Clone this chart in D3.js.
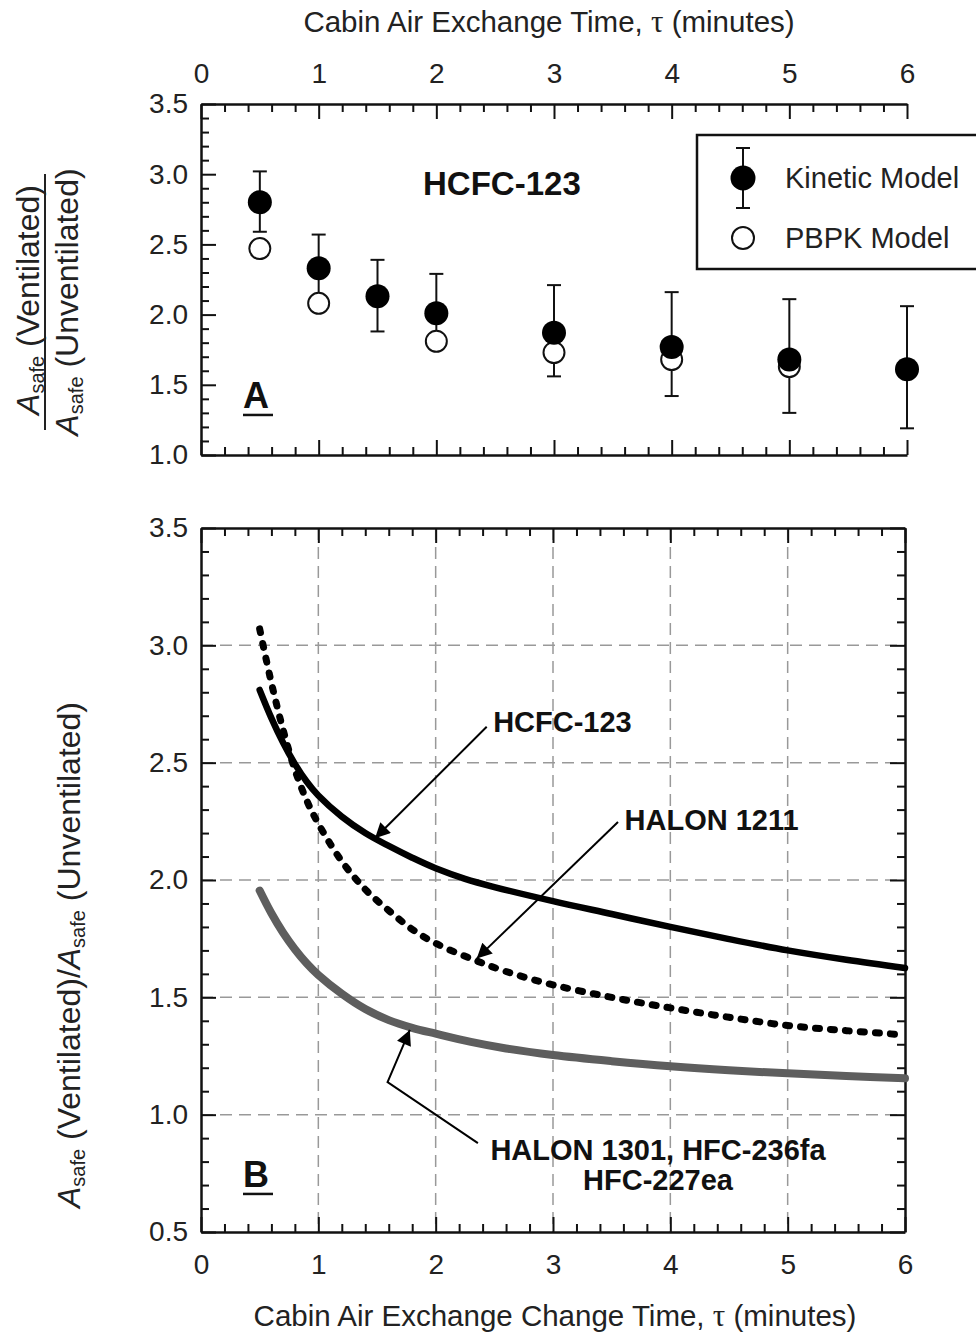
<!DOCTYPE html>
<html>
<head>
<meta charset="utf-8">
<script src="https://cdn.jsdelivr.net/npm/d3@7"></script>
<style>
  html, body { margin: 0; padding: 0; background: #fff; }
  svg { display: block; font-family: "Liberation Sans", Arial, Helvetica, sans-serif; }
</style>
</head>
<body>
<script>
// ---------- DATA ----------
// Panel A: HCFC-123, ratio vs cabin air exchange time
const tauA = [0.5, 1, 1.5, 2, 3, 4, 5, 6];
const kinetic = [2.80, 2.33, 2.13, 2.01, 1.87, 1.77, 1.68, 1.61];
const kineticLow = [2.59, 2.10, 1.88, 1.76, 1.56, 1.42, 1.30, 1.19];
const kineticHigh = [3.02, 2.57, 2.39, 2.29, 2.21, 2.16, 2.11, 2.06];
const tauPBPK = [0.5, 1, 2, 3, 4, 5];
const pbpk = [2.47, 2.08, 1.81, 1.73, 1.68, 1.63];

// Panel B: curves
const tauHCFC = [0.5, 0.6, 0.7, 0.8, 0.9, 1.0, 1.2, 1.4, 1.6, 1.8, 2.0, 2.25, 2.5, 3.0, 3.5, 4.0, 4.5, 5.0, 5.5, 6.0];
const hcfc123 = [2.81, 2.69, 2.585, 2.495, 2.42, 2.36, 2.27, 2.20, 2.145, 2.095, 2.05, 2.005, 1.97, 1.91, 1.855, 1.80, 1.748, 1.70, 1.66, 1.625];
const tauH1211 = [0.5, 0.6, 0.7, 0.8, 0.9, 1.0, 1.2, 1.4, 1.6, 1.8, 2.0, 2.3, 2.6, 3.0, 3.5, 4.0, 4.5, 5.0, 5.5, 6.0];
const halon1211 = [3.07, 2.84, 2.64, 2.47, 2.34, 2.24, 2.08, 1.96, 1.87, 1.79, 1.73, 1.665, 1.61, 1.553, 1.50, 1.455, 1.415, 1.38, 1.358, 1.34];
const tauH1301 = [0.5, 0.6, 0.7, 0.8, 0.9, 1.0, 1.2, 1.4, 1.6, 1.8, 2.0, 2.3, 2.6, 3.0, 3.5, 4.0, 4.5, 5.0, 5.5, 6.0];
const halon1301 = [1.955, 1.858, 1.775, 1.705, 1.645, 1.595, 1.515, 1.45, 1.403, 1.37, 1.345, 1.31, 1.282, 1.254, 1.228, 1.206, 1.189, 1.176, 1.165, 1.155];

// Tick labels
const xTickValues = [0, 1, 2, 3, 4, 5, 6];
const yTickValuesA = [1.0, 1.5, 2.0, 2.5, 3.0, 3.5];
const yTickValuesB = [0.5, 1.0, 1.5, 2.0, 2.5, 3.0, 3.5];
const gridX = [1, 2, 3, 4, 5];
const gridY = [1.0, 1.5, 2.0, 2.5, 3.0];

// ---------- SETUP ----------
const W = 976, H = 1334;
const svg = d3.select("body").append("svg").attr("width", W).attr("height", H);

const xA = d3.scaleLinear().domain([0, 6]).range([201, 907]);
const yA = d3.scaleLinear().domain([1.0, 3.5]).range([455, 104]);
const xB = d3.scaleLinear().domain([0, 6]).range([201, 905]);
const yB = d3.scaleLinear().domain([0.5, 3.5]).range([1232, 528]);

const xMinors = d3.range(0, 31).filter(i => i % 5 !== 0).map(i => i / 5);
const yMinorsA = d3.range(10, 36).filter(i => i % 5 !== 0).map(i => i / 10);
const yMinorsB = d3.range(5, 36).filter(i => i % 5 !== 0).map(i => i / 10);
const fmt1 = d3.format(".1f");

function drawAxis(orient, scale, pos, majors, minors, labels, fmt, pad) {
  const mk = { top: d3.axisTop, bottom: d3.axisBottom, left: d3.axisLeft, right: d3.axisRight }[orient];
  const tr = (orient === "top" || orient === "bottom") ? `translate(0,${pos})` : `translate(${pos},0)`;
  const gMin = svg.append("g").attr("transform", tr)
    .call(mk(scale).tickValues(minors).tickSizeInner(-8).tickSizeOuter(0).tickFormat(""));
  gMin.select(".domain").remove();
  gMin.selectAll("line").attr("stroke", "#111").attr("stroke-width", 2);
  const gMaj = svg.append("g").attr("transform", tr)
    .call(mk(scale).tickValues(majors).tickSizeInner(-15).tickSizeOuter(0).tickPadding(pad)
      .tickFormat(labels ? fmt : ""));
  gMaj.attr("font-family", null).attr("font-size", null);
  gMaj.select(".domain").attr("stroke", "#111").attr("stroke-width", 2.5);
  gMaj.selectAll("line").attr("stroke", "#111").attr("stroke-width", 2);
  gMaj.selectAll("text").attr("font-size", 28).attr("fill", "#222")
    .attr("font-family", "'Liberation Sans', Arial, sans-serif");
  return gMaj;
}

// ---------- PANEL A ----------
drawAxis("top", xA, 104, xTickValues, xMinors, true, d3.format("d"), 21);
drawAxis("bottom", xA, 455, xTickValues, xMinors, false, null, 0);
drawAxis("left", yA, 201, yTickValuesA, yMinorsA, true, fmt1, 13);

// Error bars
const eb = svg.append("g").attr("stroke", "#111").attr("stroke-width", 2).attr("fill", "none");
tauA.forEach((t, i) => {
  const x = xA(t);
  eb.append("line").attr("x1", x).attr("x2", x).attr("y1", yA(kineticLow[i])).attr("y2", yA(kineticHigh[i]));
  eb.append("line").attr("x1", x - 7).attr("x2", x + 7).attr("y1", yA(kineticLow[i])).attr("y2", yA(kineticLow[i]));
  eb.append("line").attr("x1", x - 7).attr("x2", x + 7).attr("y1", yA(kineticHigh[i])).attr("y2", yA(kineticHigh[i]));
});
// PBPK open circles
svg.append("g").selectAll("circle").data(tauPBPK).join("circle")
  .attr("cx", d => xA(d)).attr("cy", (d, i) => yA(pbpk[i])).attr("r", 10.5)
  .attr("fill", "#fff").attr("stroke", "#111").attr("stroke-width", 2);
// Kinetic filled circles
svg.append("g").selectAll("circle").data(tauA).join("circle")
  .attr("cx", d => xA(d)).attr("cy", (d, i) => yA(kinetic[i])).attr("r", 12)
  .attr("fill", "#000");

// Panel A text
svg.append("text").attr("x", xA(1.887)).attr("y", yA(2.852))
  .attr("font-size", 33).attr("font-weight", "bold").attr("fill", "#111").text("HCFC-123");
svg.append("text").attr("x", xA(0.357)).attr("y", yA(1.335))
  .attr("font-size", 36).attr("font-weight", "bold").attr("fill", "#111").text("A");
svg.append("line").attr("x1", xA(0.357)).attr("x2", xA(0.357) + 30)
  .attr("y1", yA(1.335) + 7).attr("y2", yA(1.335) + 7).attr("stroke", "#111").attr("stroke-width", 2.5);

// Legend
const lg = svg.append("g");
lg.append("rect").attr("x", 697).attr("y", 135).attr("width", 300).attr("height", 134)
  .attr("fill", "#fff").attr("stroke", "#111").attr("stroke-width", 2.5);
lg.append("line").attr("x1", 743).attr("x2", 743).attr("y1", 148).attr("y2", 208).attr("stroke", "#111").attr("stroke-width", 2);
lg.append("line").attr("x1", 736).attr("x2", 750).attr("y1", 148).attr("y2", 148).attr("stroke", "#111").attr("stroke-width", 2);
lg.append("line").attr("x1", 736).attr("x2", 750).attr("y1", 208).attr("y2", 208).attr("stroke", "#111").attr("stroke-width", 2);
lg.append("circle").attr("cx", 743).attr("cy", 178).attr("r", 12.5).attr("fill", "#000");
lg.append("circle").attr("cx", 743).attr("cy", 238).attr("r", 11).attr("fill", "#fff").attr("stroke", "#111").attr("stroke-width", 2);
lg.append("text").attr("x", 785).attr("y", 188).attr("font-size", 29).attr("fill", "#222").text("Kinetic Model");
lg.append("text").attr("x", 785).attr("y", 248).attr("font-size", 29).attr("fill", "#222").text("PBPK Model");

// Top x title
const tTop = svg.append("text").attr("x", 549).attr("y", 32).attr("text-anchor", "middle")
  .attr("font-size", 29.5).attr("fill", "#222");
tTop.append("tspan").text("Cabin Air Exchange Time, ");
tTop.append("tspan").attr("font-family", "'Liberation Serif', 'DejaVu Serif', serif").attr("font-size", 31).text("τ");
tTop.append("tspan").text(" (minutes)");

// Panel A y title (fraction)
function ratioLabel(g, word) {
  g.append("tspan").attr("font-style", "italic").text("A");
  g.append("tspan").attr("font-size", 20).attr("dy", 5).text("safe");
  g.append("tspan").attr("dy", -5).text(" (" + word + ")");
}
const num = svg.append("text").attr("transform", "translate(39,300) rotate(-90)")
  .attr("text-anchor", "middle").attr("font-size", 32).attr("fill", "#222");
ratioLabel(num, "Ventilated");
const den = svg.append("text").attr("transform", "translate(78,302) rotate(-90)")
  .attr("text-anchor", "middle").attr("font-size", 32).attr("fill", "#222");
ratioLabel(den, "Unventilated");
svg.append("line").attr("x1", 45).attr("x2", 45).attr("y1", 174).attr("y2", 430)
  .attr("stroke", "#222").attr("stroke-width", 2);

// ---------- PANEL B ----------
// grid
const grid = svg.append("g").attr("stroke", "#999").attr("stroke-width", 1.5).attr("stroke-dasharray", "12,7");
gridX.forEach(v => grid.append("line").attr("x1", xB(v)).attr("x2", xB(v)).attr("y1", yB(3.5)).attr("y2", yB(0.5)));
gridY.forEach(v => grid.append("line").attr("x1", xB(0)).attr("x2", xB(6)).attr("y1", yB(v)).attr("y2", yB(v)));

drawAxis("top", xB, 528, xTickValues, xMinors, false, null, 0);
drawAxis("bottom", xB, 1232, xTickValues, xMinors, true, d3.format("d"), 22);
drawAxis("left", yB, 201, yTickValuesB, yMinorsB, true, fmt1, 13);
drawAxis("right", yB, 905, yTickValuesB, yMinorsB, false, null, 0);

const lineGen = d3.line().x(d => xB(d[0])).y(d => yB(d[1])).curve(d3.curveCatmullRom.alpha(0.5));
svg.append("path").attr("d", lineGen(d3.zip(tauH1301, halon1301)))
  .attr("fill", "none").attr("stroke", "#5e5e5e").attr("stroke-width", 8).attr("stroke-linecap", "round");
svg.append("path").attr("d", lineGen(d3.zip(tauH1211, halon1211)))
  .attr("fill", "none").attr("stroke", "#000").attr("stroke-width", 7)
  .attr("stroke-dasharray", "4,11").attr("stroke-linecap", "round");
svg.append("path").attr("d", lineGen(d3.zip(tauHCFC, hcfc123)))
  .attr("fill", "none").attr("stroke", "#000").attr("stroke-width", 6.5).attr("stroke-linecap", "round");

// Arrows
const defs = svg.append("defs");
defs.append("marker").attr("id", "ah").attr("viewBox", "0 0 10 10").attr("refX", 10).attr("refY", 5)
  .attr("markerUnits", "userSpaceOnUse").attr("markerWidth", 24).attr("markerHeight", 15)
  .attr("orient", "auto")
  .append("path").attr("d", "M0,0 L10,5 L0,10 z").attr("fill", "#000");
const arrowLines = [
  [[2.435, 2.653], [1.483, 2.178]],
  [[3.554, 2.247], [2.35, 1.665]],
  [[2.36, 0.879], [1.59, 1.139], [1.78, 1.361]]
];
const straight = d3.line().x(d => xB(d[0])).y(d => yB(d[1]));
arrowLines.forEach(a => {
  svg.append("path").attr("d", straight(a)).attr("fill", "none").attr("stroke", "#000")
    .attr("stroke-width", 2).attr("marker-end", "url(#ah)");
});

// Curve labels
const bLabels = [
  { t: "HCFC-123", x: 2.49, y: 2.63, a: "start" },
  { t: "HALON 1211", x: 3.61, y: 2.213, a: "start" },
  { t: "HALON 1301, HFC-236fa", x: 3.895, y: 0.807, a: "middle" },
  { t: "HFC-227ea", x: 3.895, y: 0.679, a: "middle" }
];
bLabels.forEach(l => {
  svg.append("text").attr("x", xB(l.x)).attr("y", yB(l.y)).attr("text-anchor", l.a)
    .attr("font-size", 29).attr("font-weight", "bold").attr("fill", "#111").text(l.t);
});
svg.append("text").attr("x", xB(0.358)).attr("y", yB(0.692))
  .attr("font-size", 36).attr("font-weight", "bold").attr("fill", "#111").text("B");
svg.append("line").attr("x1", xB(0.358)).attr("x2", xB(0.358) + 30)
  .attr("y1", yB(0.692) + 7).attr("y2", yB(0.692) + 7).attr("stroke", "#111").attr("stroke-width", 2.5);

// Bottom x title
const tBot = svg.append("text").attr("x", 555).attr("y", 1326).attr("text-anchor", "middle")
  .attr("font-size", 29.5).attr("fill", "#222");
tBot.append("tspan").text("Cabin Air Exchange Change Time, ");
tBot.append("tspan").attr("font-family", "'Liberation Serif', 'DejaVu Serif', serif").attr("font-size", 31).text("τ");
tBot.append("tspan").text(" (minutes)");

// Panel B y title
const yt = svg.append("text").attr("transform", "translate(80,955) rotate(-90)")
  .attr("text-anchor", "middle").attr("font-size", 32).attr("fill", "#222");
yt.append("tspan").attr("font-style", "italic").text("A");
yt.append("tspan").attr("font-size", 20).attr("dy", 5).text("safe");
yt.append("tspan").attr("dy", -5).text(" (Ventilated)/");
yt.append("tspan").attr("font-style", "italic").text("A");
yt.append("tspan").attr("font-size", 20).attr("dy", 5).text("safe");
yt.append("tspan").attr("dy", -5).text(" (Unventilated)");
</script>
</body>
</html>
